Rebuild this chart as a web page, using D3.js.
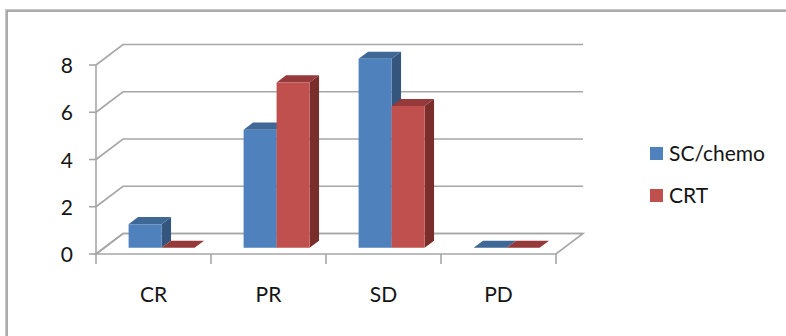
<!DOCTYPE html>
<html>
<head>
<meta charset="utf-8">
<script src="https://cdn.jsdelivr.net/npm/d3@7"></script>
<style>
  html, body { margin: 0; padding: 0; background: #fff; }
  svg { display: block; }
  text { font-family: Lato, "Open Sans", sans-serif; fill: #141414; }
</style>
</head>
<body>
<svg id="chart" width="786" height="336"></svg>
<script>
// Response counts per category
const categories = ["CR", "PR", "SD", "PD"];
const seriesNames = ["SC/chemo", "CRT"];
const scChemo = [1, 5, 8, 0];
const crt = [0, 7, 6, 0];
const yTicks = [0, 2, 4, 6, 8];

const seriesValues = [scChemo, crt];
const palette = {
  "SC/chemo": { front: "#4f81bd", top: "#3f6896", side: "#34557c" },
  "CRT":      { front: "#c0504d", top: "#96393a", side: "#7a2e2c" }
};

const svg = d3.select("#chart");

// Outer chart frame
svg.append("rect")
  .attr("x", 6.5).attr("y", 10.5)
  .attr("width", 800).attr("height", 400)
  .attr("fill", "none").attr("stroke", "#c8c8c8").attr("stroke-width", 3);
svg.append("rect")
  .attr("x", 7).attr("y", 11)
  .attr("width", 800).attr("height", 400)
  .attr("fill", "none").attr("stroke", "#8f8f8f").attr("stroke-width", 1);

// Plot geometry: front floor edge and oblique depth
const plotLeft = 96, plotRight = 556;
const depthX = 27, depthY = -20.5;

const x = d3.scaleBand().domain(categories).range([plotLeft, plotRight]);
const groupWidth = 66;
const inner = d3.scaleBand().domain(seriesNames).range([0, groupWidth]);
const y = d3.scaleLinear().domain([0, 8]).range([254, 65]);

// project a point at floor-x, value and depth fraction z
const P = (px, v, z) => [px + z * depthX, y(v) + z * depthY];
const poly = pts => "M" + pts.map(p => p.join(",")).join("L") + "Z";

const grid = svg.append("g")
  .attr("fill", "none").attr("stroke", "#a6a6a6").attr("stroke-width", 1.6);

// Floor outline
grid.append("path")
  .attr("fill", "#fff")
  .attr("d", poly([P(plotLeft, 0, 0), P(plotRight, 0, 0), P(plotRight, 0, 1), P(plotLeft, 0, 1)]));

// Side-wall diagonals and back-wall gridlines
yTicks.forEach(t => {
  const a = P(plotLeft, t, 0), b = P(plotLeft, t, 1), c = P(plotRight, t, 1);
  grid.append("path").attr("d", "M" + a + "L" + b + "L" + c);
});

// Vertical axis and its ticks
grid.append("line")
  .attr("x1", plotLeft).attr("x2", plotLeft)
  .attr("y1", y(8)).attr("y2", y(0));
yTicks.forEach(t => {
  grid.append("line")
    .attr("x1", plotLeft - 7).attr("x2", plotLeft)
    .attr("y1", y(t)).attr("y2", y(t));
});

// Category ticks under the front floor edge
const catEdges = categories.map(c => x(c)).concat([plotRight]);
catEdges.forEach(px => {
  grid.append("line")
    .attr("x1", px).attr("x2", px)
    .attr("y1", y(0)).attr("y2", y(0) + 10);
});

// Y tick labels
svg.append("g").selectAll("text").data(yTicks).join("text")
  .attr("x", 73).attr("y", d => y(d) + 8)
  .attr("text-anchor", "end")
  .attr("font-size", 21)
  .text(d => d);

// Category labels
svg.append("g").selectAll("text").data(categories).join("text")
  .attr("x", d => x(d) + x.bandwidth() / 2)
  .attr("y", 302)
  .attr("text-anchor", "middle")
  .attr("font-size", 21)
  .text(d => d);

// 3D bars, drawn left to right so neighbours overlap correctly
const zFront = 0.3, zBack = 0.65;
const barsG = svg.append("g");
categories.forEach((cat, ci) => {
  seriesNames.forEach((s, si) => {
    const v = seriesValues[si][ci];
    const col = palette[s];
    const x0 = x(cat) + (x.bandwidth() - groupWidth) / 2 + inner(s);
    const x1 = x0 + inner.bandwidth();
    const g = barsG.append("g");
    if (v > 0) {
      g.append("path").attr("fill", col.side)
        .attr("d", poly([P(x1, 0, zFront), P(x1, 0, zBack), P(x1, v, zBack), P(x1, v, zFront)]));
    }
    g.append("path").attr("fill", col.top)
      .attr("d", poly([P(x0, v, zFront), P(x1, v, zFront), P(x1, v, zBack), P(x0, v, zBack)]));
    if (v > 0) {
      g.append("path").attr("fill", col.front)
        .attr("d", poly([P(x0, 0, zFront), P(x1, 0, zFront), P(x1, v, zFront), P(x0, v, zFront)]));
    }
  });
});

// Legend
const legend = svg.append("g");
seriesNames.forEach((s, i) => {
  const ly = 161 + i * 42;
  legend.append("rect")
    .attr("x", 650).attr("y", ly - 14)
    .attr("width", 13).attr("height", 13)
    .attr("fill", palette[s].front);
  legend.append("text")
    .attr("x", 669).attr("y", ly)
    .attr("font-size", 21)
    .text(s);
});
</script>
</body>
</html>
